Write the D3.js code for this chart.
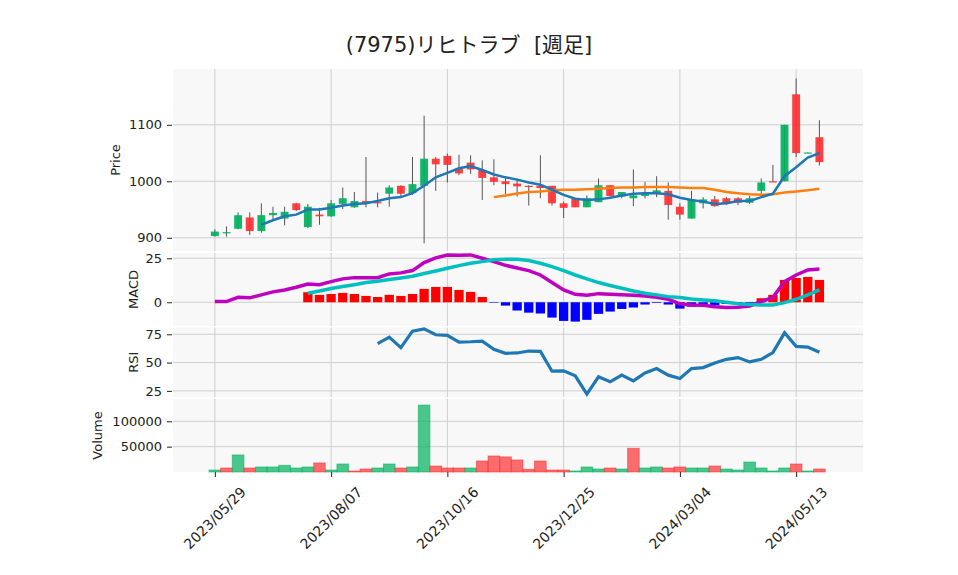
<!DOCTYPE html>
<html>
<head>
<meta charset="utf-8">
<script src="https://cdn.jsdelivr.net/npm/d3@7"></script>
<style>
  body { margin: 0; background: #fff; }
  text { font-family: "DejaVu Sans", "Noto Sans CJK JP", sans-serif; fill: #222; }
</style>
</head>
<body>
<div class="canvas"></div>
<script>
// weekly data, one entry per week starting 2023/05/29
const opens  = [903,909,916,936,912,940,934,961,919,941,938,960,954,965,963,978,992,979,992,1040,1045,1023,1033,1020,1007,1000,996,992,992,992,961,969,954,963,993,973,970,974,979,983,955,934,961,968,970,970,962,983,1000,1000,1154,1050,1078]
const highs  = [915,920,945,945,961,955,955,962,960,953,967,989,981,1043,980,993,993,1043,1116,1043,1049,1047,1046,1037,1039,1007,1005,993,1046,992,964,969,975,1005,993,981,1021,999,1009,998,961,983,972,974,972,972,974,1005,1029,1100,1182,1051,1108]
const lows   = [902,902,915,905,909,932,922,947,917,923,937,951,953,954,954,955,973,976,890,983,998,1011,1013,967,993,977,973,957,970,957,935,954,954,963,973,970,956,970,972,932,932,934,952,955,958,958,960,978,999,1000,1043,1050,1028]
const closes = [911,910,940,912,940,944,946,949,955,938,961,970,965,961,962,989,978,995,1040,1030,1029,1014,1021,1006,999,995,991,990,988,961,953,954,970,993,974,981,975,979,984,958,941,967,968,956,960,962,970,998,999,1100,1050,1051,1034]
const volumes = [3900,7900,33600,7900,9900,9900,13200,7900,9900,17800,3900,15800,2000,5900,7900,15800,7900,9900,132000,11800,7900,7900,7900,21700,31600,29800,23700,5300,21700,3900,3900,2000,9900,5900,7900,5900,46700,7900,9900,7900,9900,7900,7900,11800,5900,3900,19700,7900,2000,7900,15800,2000,5900]

// moving averages (5 and 25 week)
const ma5 = [null,null,null,null,923,931,938,941,950,950,953,957,960,961,965,970,972,979,992,1007,1015,1023,1027,1020,1012,1007,1003,998,994,985,976,969,967,968,971,975,978,979,979,977,971,967,964,960,961,965,965,972,978,1009,1025,1042,1050]
const ma25 = [...Array(24).fill(null),972,975,978.5,981,982,984,985,985,986,987,988,989,989,990,990,990,989,988,988,985,981,979,977,976,977,980,982,984,987]

// MACD panel
const macd = [0.4,0.4,2.8,2.5,4.2,5.9,7.0,8.5,10.4,10,11.7,13.3,14,14,14,16.1,16.7,18,22.5,25.2,26.9,26.7,26.9,25,23.1,21,19.5,18,15.5,11.2,7,4.5,4,4.9,4.5,4.2,4,3.6,2.8,1.7,-0.9,-1.5,-1.7,-2.5,-3,-2.8,-2.1,0.4,2.8,11.7,15.5,18.4,18.9]
const signal = [...Array(8).fill(null),5.1,6.4,7.8,8.9,10,11.2,11.9,12.9,13.8,14.8,16.3,17.8,19.3,20.8,22.2,23.1,24.1,24.5,24.4,23.7,22.2,20.3,18,15.5,13.3,11.2,9.5,8,6.4,5.1,4.2,3.2,2.7,1.9,1.3,0.8,0,-0.8,-1.3,-1.5,-1.5,-0.2,1.7,4.2,7]
const hist = [...Array(8).fill(null),5.7,4.2,4.7,5.3,4.7,3.6,3.0,4.2,3.6,4.7,7.6,8.7,8.7,7.0,5.9,3.0,-0.3,-1.9,-4.7,-5.9,-6.4,-8.7,-10.6,-11.0,-10.0,-6.6,-5.3,-3.8,-3.0,-1.3,-0.4,-1.3,-3.6,-2.5,-1.9,-1.7,-1.0,-1.0,-0.5,2.3,4.2,12.7,13.8,14.4,12.7]

// RSI panel
const rsi = [...Array(14).fill(null),66.7,72.5,63.2,77.8,79.8,74.6,74.0,68.1,68.4,69.0,61.7,58.2,58.5,60.2,59.9,42.4,42.7,38.3,22.2,37.4,33.0,38.9,33.9,40.9,44.7,38.9,36.0,44.7,45.6,49.7,52.9,54.4,50.6,52.9,58.8,76.3,64.3,63.7,59.1]

// x tick labels
const tickIdx = [0,10,20,30,40,50]
const tickLabels = ['2023/05/29','2023/08/07','2023/10/16','2023/12/25','2024/03/04','2024/05/13']

const upColor = '#00b060'
const downColor = '#fe3032'

const svg = d3.select('.canvas')
    .append('svg')
        .attr('width', 958)
        .attr('height', 575)

const left = 173, right = 863

const x = d3.scaleLinear()
    .domain([-3.6, 55.75])
    .range([left, right])
const step = x(1) - x(0)

// panels top to bottom
const panels = [
    {name: 'price', top: 69, bottom: 251, domain: [876.6, 1198.8], ticks: [900, 1000, 1100], label: 'Price', lx: 115},
    {name: 'macd', top: 253, bottom: 326, domain: [-13.5, 28], ticks: [0, 25], label: 'MACD', lx: 133},
    {name: 'rsi', top: 327.5, bottom: 397, domain: [19.6, 81], ticks: [25, 50, 75], label: 'RSI', lx: 133},
    {name: 'vol', top: 399, bottom: 472, domain: [0, 144000], ticks: [50000, 100000], label: 'Volume', lx: 97}
]

const ys = {}
panels.forEach(p => {
    const y = d3.scaleLinear().domain(p.domain).range([p.bottom, p.top])
    ys[p.name] = y

    const g = svg.append('g').attr('class', 'panel-' + p.name)
    g.append('rect')
        .attr('x', left)
        .attr('y', p.top)
        .attr('width', right - left)
        .attr('height', p.bottom - p.top)
        .attr('fill', '#f8f8f8')

    // grid
    g.selectAll('.vgrid')
        .data(tickIdx)
        .enter().append('line')
            .attr('x1', d => x(d)).attr('x2', d => x(d))
            .attr('y1', p.top).attr('y2', p.bottom)
            .attr('stroke', '#cfcfcf')
    g.selectAll('.hgrid')
        .data(p.ticks)
        .enter().append('line')
            .attr('x1', left).attr('x2', right)
            .attr('y1', d => y(d)).attr('y2', d => y(d))
            .attr('stroke', '#cfcfcf')

    // y axis
    const axis = svg.append('g')
        .attr('transform', `translate(${left - 1}, 0)`)
        .call(d3.axisLeft(y).tickValues(p.ticks).tickSize(5).tickPadding(5).tickFormat(d3.format('d')))
    axis.select('.domain').remove()
    axis.selectAll('line').attr('stroke', '#222')
    axis.selectAll('text')
        .style('font-size', '13px')
        .style('font-family', '"DejaVu Sans", sans-serif')
        .attr('fill', '#222')

    svg.append('text')
        .attr('transform', `translate(${p.lx}, ${(p.top + p.bottom) / 2}) rotate(-90)`)
        .attr('text-anchor', 'middle')
        .attr('dominant-baseline', 'central')
        .style('font-size', '13px')
        .text(p.label)
})

const idx = d3.range(closes.length)

// --- price panel ---
const yp = ys.price
const price = svg.append('g')

price.selectAll('.wick')
    .data(idx)
    .enter().append('line')
        .attr('x1', d => x(d)).attr('x2', d => x(d))
        .attr('y1', d => yp(highs[d])).attr('y2', d => yp(lows[d]))
        .attr('stroke', '#555')
        .attr('stroke-width', 1)

const bodyW = step * 0.68
price.selectAll('.body')
    .data(idx)
    .enter().append('rect')
        .attr('x', d => x(d) - bodyW / 2)
        .attr('width', bodyW)
        .attr('y', d => yp(Math.max(opens[d], closes[d])))
        .attr('height', d => Math.max(1.2, Math.abs(yp(opens[d]) - yp(closes[d]))))
        .attr('fill', d => closes[d] >= opens[d] ? upColor : downColor)
        .attr('fill-opacity', 0.92)

const lineFor = (y, arr) => d3.line()
    .defined(d => arr[d] != null)
    .x(d => x(d))
    .y(d => y(arr[d]))

price.append('path')
    .attr('d', lineFor(yp, ma25)(idx))
    .attr('fill', 'none')
    .attr('stroke', '#ff7f0e')
    .attr('stroke-width', 2.5)
price.append('path')
    .attr('d', lineFor(yp, ma5)(idx))
    .attr('fill', 'none')
    .attr('stroke', '#1f77b4')
    .attr('stroke-width', 2.5)

// --- MACD panel ---
const ym = ys.macd
const mg = svg.append('g')
const histW = step * 0.8
mg.selectAll('.hist')
    .data(idx.filter(d => hist[d] != null))
    .enter().append('rect')
        .attr('x', d => x(d) - histW / 2)
        .attr('width', histW)
        .attr('y', d => ym(Math.max(0, hist[d])))
        .attr('height', d => Math.abs(ym(hist[d]) - ym(0)))
        .attr('fill', d => hist[d] >= 0 ? 'red' : 'blue')

mg.append('path')
    .attr('d', lineFor(ym, macd)(idx))
    .attr('fill', 'none')
    .attr('stroke', '#bf00bf')
    .attr('stroke-width', 3.5)
mg.append('path')
    .attr('d', lineFor(ym, signal)(idx))
    .attr('fill', 'none')
    .attr('stroke', '#00bfbf')
    .attr('stroke-width', 3.5)

// --- RSI panel ---
svg.append('path')
    .attr('d', lineFor(ys.rsi, rsi)(idx))
    .attr('fill', 'none')
    .attr('stroke', '#1f77b4')
    .attr('stroke-width', 3.2)

// --- volume panel ---
const yv = ys.vol
const volUp = d => d === 0 || closes[d] > closes[d - 1]
svg.append('g').selectAll('rect')
    .data(idx)
    .enter().append('rect')
        .attr('x', d => x(d) - step / 2)
        .attr('width', step)
        .attr('y', d => yv(volumes[d]))
        .attr('height', d => yv(0) - yv(volumes[d]))
        .attr('fill', d => volUp(d) ? upColor : downColor)
        .attr('fill-opacity', 0.7)
        .attr('stroke', d => volUp(d) ? upColor : downColor)
        .attr('stroke-opacity', 0.55)
        .attr('stroke-width', 1)

// x axis under volume
const xAxis = svg.append('g')
    .attr('transform', 'translate(0, 472)')
    .call(d3.axisBottom(x).tickValues(tickIdx).tickSize(5).tickFormat(''))
xAxis.select('.domain').remove()
xAxis.selectAll('line').attr('stroke', '#222')

svg.selectAll('.xlabel')
    .data(tickIdx)
    .enter().append('text')
        .attr('transform', d => `translate(${x(d)}, 518) rotate(-45)`)
        .attr('text-anchor', 'middle')
        .attr('dominant-baseline', 'central')
        .style('font-size', '14px')
        .text((d, i) => tickLabels[i])

// title
svg.append('text')
    .attr('x', 469)
    .attr('y', 45)
    .attr('text-anchor', 'middle')
    .attr('dominant-baseline', 'central')
    .attr('xml:space', 'preserve')
    .style('white-space', 'pre')
    .style('font-size', '21px')
    .text('(7975)リヒトラブ  [週足]')
</script>
</body>
</html>
